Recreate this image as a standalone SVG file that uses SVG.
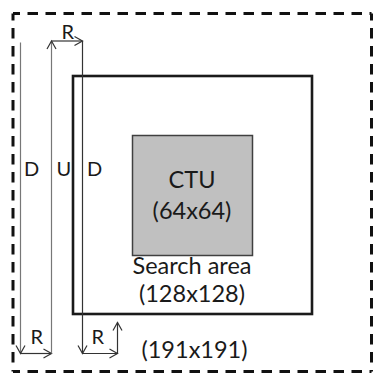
<svg xmlns="http://www.w3.org/2000/svg" width="373" height="373" viewBox="0 0 373 373">
<style>
.t{font-family:Lato,"Open Sans","Liberation Sans",sans-serif;fill:#1a1a1a}
.big{font-size:23.5px;text-anchor:middle}
.lab{font-size:20px}
.dash{fill:none;stroke:#111;stroke-width:3;stroke-dasharray:10.5 7.5;stroke-dashoffset:3.5}
.ln{fill:none;stroke:#333;stroke-width:1.2}
.lg{fill:none;stroke:#777;stroke-width:1.2}
</style>
<defs>
<marker id="ah" markerUnits="userSpaceOnUse" markerWidth="10" markerHeight="11" refX="8" refY="4.5" orient="auto" overflow="visible">
<path d="M0,0 L8,4.5 L0,9" fill="none" stroke="#333" stroke-width="1.2"/>
</marker>
</defs>
<g id="outer">
<path class="dash" d="M13,13.5 H371.5"/>
<path class="dash" d="M13,13.5 V371.5"/>
<path class="dash" d="M371.5,13.5 V371.5"/>
<path class="dash" d="M13,371.5 H371.5"/>
<text class="t big" x="194.5" y="357.5">(191x191)</text>
</g>
<g id="search">
<rect x="73" y="76" width="239" height="238" fill="none" stroke="#1a1a1a" stroke-width="2.6"/>
<text class="t big" x="192" y="274">Search area</text>
<text class="t big" x="192" y="302">(128x128)</text>
</g>
<g id="ctu">
<rect x="132.5" y="135.5" width="120" height="120" fill="#c0c0c0" stroke="#404040" stroke-width="1.5"/>
<text class="t big" x="192" y="188">CTU</text>
<text class="t big" x="192" y="219">(64x64)</text>
</g>
<g id="connectors">
<path class="lg" d="M20.5,42.5 V353.5" marker-end="url(#ah)"/>
<path class="ln" d="M20.5,353.5 H51.5" marker-end="url(#ah)"/>
<path class="lg" d="M51.5,353.5 V41" marker-end="url(#ah)"/>
<path class="ln" d="M51.5,41 H82.5" marker-end="url(#ah)"/>
<path class="ln" d="M82.5,41 V353.5" marker-end="url(#ah)"/>
<path class="ln" d="M82.5,353.5 H117.5" marker-end="url(#ah)"/>
<path class="ln" d="M117.5,353.5 V322.5" marker-end="url(#ah)"/>
</g>
<g id="labels">
<text class="t lab" x="61.5" y="39">R</text>
<text class="t lab" x="30.5" y="344">R</text>
<text class="t lab" x="91.5" y="344">R</text>
<text class="t lab" x="24" y="176">D</text>
<text class="t lab" x="56.5" y="176">U</text>
<text class="t lab" x="87" y="176">D</text>
</g>
</svg>
